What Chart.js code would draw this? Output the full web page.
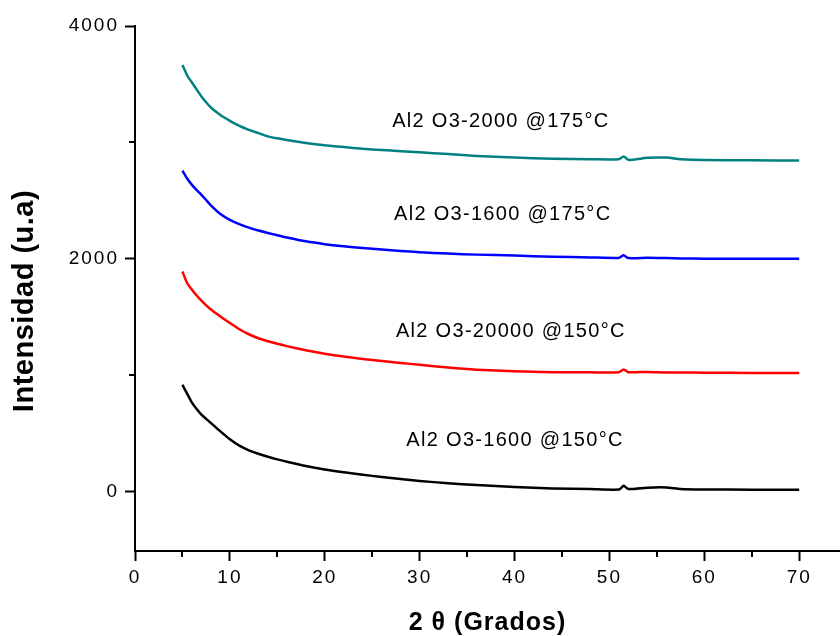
<!DOCTYPE html>
<html>
<head>
<meta charset="utf-8">
<script src="https://cdn.jsdelivr.net/npm/chart.js@4.4.0/dist/chart.umd.min.js"></script>
<style>
  html, body { margin: 0; padding: 0; background: #fff; }
  canvas { display: block; }
</style>
</head>
<body>
<canvas id="grafico" width="840" height="636"></canvas>
<script>
const dosTheta = [5, 5.5, 6, 6.5, 7, 7.5, 8, 9, 10, 11, 12, 13, 14, 15, 16, 18, 20, 22, 24, 26, 28, 30,
                  33, 36, 40, 44, 48, 51, 51.5, 52, 54, 56, 57.5, 60, 65, 70];

const al1600_150  = [918, 840, 765, 710, 662, 625, 590, 518, 450, 395, 355, 325, 300, 277, 257, 220, 190, 166, 145, 126, 108, 92,
                     72, 57, 40, 27, 22, 18, 50, 22, 34, 36, 22, 18, 17, 17];
const al20000_150 = [1891, 1790, 1735, 1685, 1640, 1600, 1565, 1505, 1448, 1395, 1352, 1318, 1292, 1270, 1250, 1215, 1185, 1160, 1140, 1122, 1105, 1090,
                     1066, 1048, 1034, 1026, 1025, 1025, 1050, 1026, 1028, 1024, 1024, 1021, 1020, 1020];
const al1600_175  = [2758, 2690, 2635, 2590, 2550, 2505, 2460, 2385, 2335, 2298, 2268, 2243, 2222, 2202, 2183, 2150, 2126, 2108, 2093, 2080, 2068, 2057,
                     2045, 2036, 2028, 2018, 2012, 2008, 2030, 2006, 2009, 2006, 2003, 2001, 2000, 2000];
const al2000_175  = [3665, 3575, 3515, 3455, 3395, 3345, 3300, 3235, 3185, 3142, 3108, 3080, 3052, 3035, 3020, 2995, 2975, 2960, 2945, 2935, 2925, 2915,
                     2900, 2884, 2870, 2860, 2855, 2855, 2880, 2850, 2868, 2870, 2856, 2848, 2846, 2844];

const nombres = ['Al2 O3-1600 @150°C', 'Al2 O3-20000 @150°C', 'Al2 O3-1600 @175°C', 'Al2 O3-2000 @175°C'];
const colores = ['#000000', '#ff0000', '#0000ff', '#008080'];
const series  = [al1600_150, al20000_150, al1600_175, al2000_175];

const ticksX = [0, 10, 20, 30, 40, 50, 60, 70];
const ticksY = [0, 2000, 4000];

// posiciones de las etiquetas (coordenadas de datos, borde izquierdo)
const posEtiquetas = [[28.6, 439], [27.5, 1376], [27.3, 2382], [27.1, 3179]];

const FUENTE = "'Liberation Sans', Arial, sans-serif";

// ===== Plugin: ticks menores, etiquetas y títulos =====
const decoracion = {
  id: 'decoracion',
  beforeDraw(chart) { chart.ctx.letterSpacing = '2px'; },
  afterDatasetsDraw(chart) {
    const { ctx, scales: { x, y }, chartArea } = chart;
    ctx.save();
    ctx.strokeStyle = '#000';
    ctx.lineWidth = 2;
    // ticks menores
    [5, 15, 25, 35, 45, 55, 65].forEach(v => {
      const px = Math.round(x.getPixelForValue(v));
      ctx.beginPath(); ctx.moveTo(px, chartArea.bottom); ctx.lineTo(px, chartArea.bottom + 6); ctx.stroke();
    });
    [1000, 3000].forEach(v => {
      const py = Math.round(y.getPixelForValue(v));
      ctx.beginPath(); ctx.moveTo(chartArea.left, py); ctx.lineTo(chartArea.left - 6, py); ctx.stroke();
    });

    // etiquetas de cada curva
    ctx.fillStyle = '#000';
    ctx.font = `20px ${FUENTE}`;
    ctx.letterSpacing = '1.3px';
    ctx.textAlign = 'left';
    ctx.textBaseline = 'middle';
    nombres.forEach((n, i) => {
      const [vx, vy] = posEtiquetas[i];
      ctx.fillText(n, x.getPixelForValue(vx), y.getPixelForValue(vy));
    });

    // títulos de ejes
    ctx.textAlign = 'center';
    ctx.font = `bold 25px ${FUENTE}`;
    ctx.letterSpacing = '1px';
    ctx.fillText('2 θ (Grados)', (chartArea.left + chartArea.right) / 2, 623);

    ctx.save();
    ctx.translate(25, 301);
    ctx.rotate(-Math.PI / 2);
    ctx.font = `bold 29px ${FUENTE}`;
    ctx.letterSpacing = '0.5px';
    ctx.fillText('Intensidad (u.a)', 0, 0);
    ctx.restore();
    ctx.restore();
  }
};

new Chart(document.getElementById('grafico'), {
  type: 'line',
  data: {
    datasets: series.map((s, i) => ({
      label: nombres[i],
      data: s.map((v, k) => ({ x: dosTheta[k], y: v })),
      borderColor: colores[i],
      borderWidth: 2.5,
      pointRadius: 0,
      tension: 0.2
    }))
  },
  options: {
    responsive: false,
    animation: false,
    events: [],
    layout: { padding: { top: 26, right: 0, left: 0, bottom: 0 } },
    plugins: { legend: { display: false }, tooltip: { enabled: false } },
    scales: {
      x: {
        type: 'linear', min: 0, max: 74.3,
        afterBuildTicks: s => { s.ticks = ticksX.map(v => ({ value: v })); },
        afterFit: s => { s.height = 85; },
        ticks: { color: '#000', font: { family: FUENTE, size: 19 }, padding: 5, maxRotation: 0, autoSkip: false,
                 callback: v => String(v) },
        grid: { drawOnChartArea: false, tickLength: 10, tickWidth: 2, tickColor: '#000' },
        border: { color: '#000', width: 2 }
      },
      y: {
        type: 'linear', min: -510, max: 4000,
        afterBuildTicks: s => { s.ticks = ticksY.map(v => ({ value: v })); },
        afterFit: s => { s.width = 135; },
        ticks: { color: '#000', font: { family: FUENTE, size: 19 }, padding: 6, autoSkip: false,
                 callback: v => String(v) },
        grid: { drawOnChartArea: false, tickLength: 10, tickWidth: 2, tickColor: '#000' },
        border: { color: '#000', width: 2 }
      }
    }
  },
  plugins: [decoracion]
});
</script>
</body>
</html>
